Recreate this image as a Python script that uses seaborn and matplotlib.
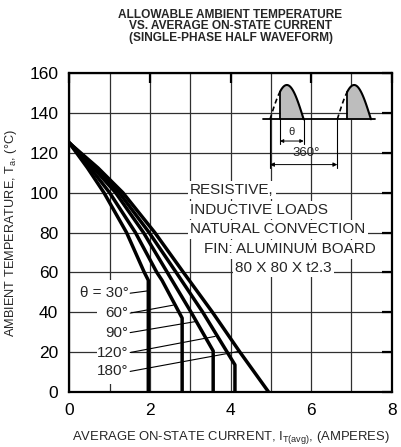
import numpy as np
import pandas as pd
import matplotlib
matplotlib.use("Agg")
import matplotlib.pyplot as plt
from matplotlib.patches import Rectangle
import seaborn as sns

# ---------------- data ----------------
theta_labels = ["30°", "60°", "90°", "120°", "180°"]
curve_30_x = [0.0, 0.45, 0.86, 1.42, 1.86, 1.96, 1.96]
curve_30_t = [125, 112.5, 100, 80, 60, 56, 0]
curve_60_x = [0.0, 0.52, 1.00, 1.64, 2.17, 2.30, 2.80, 2.80]
curve_60_t = [125, 112.5, 100, 80, 60, 56, 37, 0]
curve_90_x = [0.0, 0.60, 1.15, 1.84, 2.43, 3.02, 3.57, 3.57]
curve_90_t = [125, 112.5, 100, 80, 60, 40, 20.5, 0]
curve_120_x = [0.0, 0.65, 1.24, 1.98, 2.65, 3.31, 4.11, 4.11]
curve_120_t = [125, 112.5, 100, 80, 60, 40, 13.5, 0]
curve_180_x = [0.0, 0.71, 1.33, 2.12, 2.83, 3.55, 4.23, 4.94]
curve_180_t = [125, 112.5, 100, 80, 60, 40, 20, 0]

label_texts = ["θ = 30°", "60°", "90°", "120°", "180°"]
label_t = [49.5, 39.5, 29.7, 19.7, 10.2]
leader_end_x = [1.96, 2.58, 3.12, 3.62, 4.19]
leader_end_t = [50.7, 43.5, 35.2, 27.8, 20.2]

x_ticks = [0, 2, 4, 6, 8]
x_minor = [1, 3, 5, 7]
y_ticks = [0, 20, 40, 60, 80, 100, 120, 140, 160]

note_lines = ["RESISTIVE,", "INDUCTIVE LOADS", "NATURAL CONVECTION",
              "FIN: ALUMINUM BOARD", "80 X 80 X t2.3"]
note_x = [3.0, 3.0, 3.0, 3.33, 4.11]
note_t = [101.3, 91.3, 81.6, 71.6, 62.1]

title_lines = ["ALLOWABLE AMBIENT TEMPERATURE",
               "VS. AVERAGE ON-STATE CURRENT",
               "(SINGLE-PHASE HALF WAVEFORM)"]

# inset waveform (phase in degrees)
wave_period = 360
conduction_start = 53
pulse_offsets = [0, 360]

# ---------------- styling ----------------
sns.set_style("white")
plt.rcParams['font.family'] = ['Liberation Sans', 'DejaVu Sans']
plt.rcParams['mathtext.fontset'] = 'custom'
plt.rcParams['mathtext.rm'] = 'Liberation Sans'
plt.rcParams['mathtext.it'] = 'Liberation Sans:italic'

curves_x = [curve_30_x, curve_60_x, curve_90_x, curve_120_x, curve_180_x]
curves_t = [curve_30_t, curve_60_t, curve_90_t, curve_120_t, curve_180_t]
frames = []
for lab, xs, ts in zip(theta_labels, curves_x, curves_t):
    frames.append(pd.DataFrame({"current": xs, "temp": ts, "theta": lab}))
df = pd.concat(frames, ignore_index=True)

fig = plt.figure(figsize=(4.02, 4.47), dpi=100)
ax = fig.add_axes([0.1724, 0.1237, 0.8020, 0.7123])

sns.lineplot(data=df, x="current", y="temp", hue="theta",
             palette={l: "black" for l in theta_labels}, sort=False,
             estimator=None, lw=2.5, legend=False, ax=ax, zorder=4)

ax.set_xlim(0, 8)
ax.set_ylim(0, 160)
ax.set_xticks(x_ticks)
ax.set_xticks(x_minor, minor=True)
ax.set_yticks(y_ticks)
ax.grid(True, which='both', color='#303030', lw=0.9)
ax.set_axisbelow(True)
ax.tick_params(which='major', direction='in', length=7, width=1.6,
               top=True, right=True, labelsize=12.5, pad=8, colors='black')
ax.tick_params(which='minor', length=0)
for s in ax.spines.values():
    s.set_linewidth(1.6)
    s.set_color('black')
    s.set_zorder(6)

ax.set_xlabel("AVERAGE ON-STATE CURRENT, I$_{\\mathrm{T(avg)}}$, (AMPERES)",
              fontsize=9.4, labelpad=8)
ax.set_ylabel("AMBIENT TEMPERATURE, T$_{\\mathrm{a}}$, (°C)", fontsize=9.2, labelpad=7)

# white area behind the theta labels
ax.add_patch(Rectangle((0.68, 4), 0.84, 52, facecolor='white', edgecolor='none', zorder=2))
for txt, t, ex, et in zip(label_texts, label_t, leader_end_x, leader_end_t):
    ax.text(1.47, t, txt, ha='right', va='center', fontsize=11, zorder=5)
    ax.plot([1.51, ex], [t, et], color='black', lw=0.8, zorder=3)

for txt, x, t in zip(note_lines, note_x, note_t):
    ax.text(x, t, txt, ha='left', va='center', fontsize=11, zorder=5,
            bbox=dict(boxstyle='square,pad=0.15', fc='white', ec='none'))

# title
for i, line in enumerate(title_lines):
    fig.text(0.5734, 1 - (14.5 + 11.8 * i) / 447, line,
             ha='center', va='center', fontsize=8.6, fontweight='bold')

# inset waveform
ins = fig.add_axes([0.6468, 0.6152, 0.2985, 0.1991], zorder=5)
ins.set_facecolor('white')
ins.set_xlim(-53.5, 588.4)
ins.set_ylim(-1.536, 1.058)
ins.axis('off')
ins.patch.set_visible(True)
ph_dash = np.linspace(0, conduction_start, 30)
ph_solid = np.linspace(conduction_start, 180, 80)
ins.plot([-36, 560], [0, 0], color='black', lw=1.3)
for off in pulse_offsets:
    ins.plot(ph_dash + off, np.sin(np.radians(ph_dash)), color='black', lw=1.2, ls=(0, (3, 2)))
    ins.fill_between(ph_solid + off, 0, np.sin(np.radians(ph_solid)), color='#bdbdbd', lw=0)
    ins.plot(ph_solid + off, np.sin(np.radians(ph_solid)), color='black', lw=1.5)
    ins.plot([conduction_start + off] * 2, [0, np.sin(np.radians(conduction_start))], color='black', lw=1.3)
# dimension lines
ins.plot([conduction_start] * 2, [0, -0.72], color='black', lw=0.8)
ins.plot([180] * 2, [0, -0.72], color='black', lw=0.8)
ins.plot([0] * 2, [0, -1.42], color='black', lw=0.8)
ins.plot([wave_period] * 2, [0, -1.42], color='black', lw=0.8)
ins.annotate("", xy=(conduction_start, -0.633), xytext=(180, -0.633),
             arrowprops=dict(arrowstyle='<|-|>', color='black', lw=0.7,
                             mutation_scale=5, shrinkA=0, shrinkB=0))
ins.annotate("", xy=(0, -1.32), xytext=(wave_period, -1.32),
             arrowprops=dict(arrowstyle='<|-|>', color='black', lw=0.7,
                             mutation_scale=6, shrinkA=0, shrinkB=0))
ins.text(116, -0.36, "θ", ha='center', va='center', fontsize=8)
ins.text(191, -0.97, "360°", ha='center', va='center', fontsize=9.5)

fig.savefig("out.png", dpi=100)
